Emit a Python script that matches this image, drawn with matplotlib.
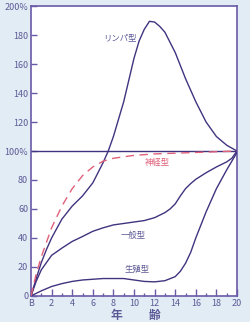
import matplotlib
matplotlib.use("Agg")
import matplotlib.pyplot as plt
from matplotlib.ticker import MultipleLocator

plt.rcParams['font.family'] = ['Noto Sans CJK JP', 'DejaVu Sans']

# ---- data (percent of adult size at 20 years) ----
lymph_x = [0, 0.5, 1, 1.5, 2, 3, 4, 5, 6, 7, 7.5, 8, 9, 10, 10.5, 11, 11.5, 12, 12.5, 13, 14, 15, 16, 17, 18, 19, 20]
lymph_y = [0, 12, 23, 32, 40, 53, 62, 69, 78, 92, 100, 110, 134, 164, 176, 184, 189.5, 189, 186, 182, 168, 150, 134, 120, 110, 104, 100]

neural_x = [0, 0.5, 1, 1.5, 2, 3, 4, 5, 6, 7, 8, 10, 12, 14, 16, 18, 20]
neural_y = [0, 15, 27, 37, 47, 62, 74, 83, 89, 93, 95, 97, 98, 98.5, 99, 99.5, 100]

general_x = [0, 0.5, 1, 1.5, 2, 3, 4, 5, 6, 7, 8, 9, 10, 11, 12, 13, 13.5, 14, 14.5, 15, 15.5, 16, 17, 18, 19, 19.5, 20]
general_y = [0, 10, 18, 23, 28, 33, 37.6, 41, 44.6, 47, 49, 50, 51, 52, 54, 57.5, 60, 63.5, 69, 74, 77.5, 80.5, 85, 89, 92.5, 95, 100]

repro_x = [0, 1, 2, 3, 4, 5, 6, 7, 8, 9, 10, 11, 12, 13, 14, 14.5, 15, 15.5, 16, 16.5, 17, 18, 19, 19.5, 20]
repro_y = [0, 3.5, 6.5, 8.5, 10, 11, 11.5, 12, 12, 12, 11, 10, 9.7, 10.5, 13.3, 17, 22.5, 30, 40, 49, 58, 74, 87, 93, 99]

labels = {"リンパ型": (8.6, 178), "神経型": (12.3, 92), "一般型": (9.9, 42), "生殖型": (10.3, 18)}

xticks = [0, 2, 4, 6, 8, 10, 12, 14, 16, 18, 20]
xticklabels = ["B", "2", "4", "6", "8", "10", "12", "14", "16", "18", "20"]
yticks = [0, 20, 40, 60, 80, 100, 120, 140, 160, 180, 200]
yticklabels = ["0", "20", "40", "60", "80", "100%", "120", "140", "160", "180", "200%"]

bg = "#e2ecf5"
spine_c = "#6a5aa8"
line_c = "#41337f"
text_c = "#5c5a96"
red_c = "#e0607a"

fig = plt.figure(figsize=(2.5, 3.22), dpi=100, facecolor=bg)
ax = fig.add_axes([0.124, 0.081, 0.824, 0.900])
ax.set_facecolor("white")

ax.axhline(100, color=line_c, lw=1.0, zorder=2)
ax.plot(lymph_x, lymph_y, color=line_c, lw=1.0, zorder=3)
ax.plot(general_x, general_y, color=line_c, lw=1.0, zorder=3)
ax.plot(repro_x, repro_y, color=line_c, lw=1.0, zorder=3)
ax.plot(neural_x, neural_y, color=red_c, lw=1.0, ls=(0, (6, 4)), zorder=3)

for t, (x, y) in labels.items():
    ax.text(x, y, t, fontsize=6, color=red_c if t == "神経型" else text_c,
            ha="center", va="center")

ax.set_xlim(0, 20)
ax.set_ylim(0, 200)
ax.set_xticks(xticks)
ax.set_xticklabels(xticklabels)
ax.xaxis.set_minor_locator(MultipleLocator(1))
ax.set_yticks(yticks)
ax.set_yticklabels(yticklabels)

ax.tick_params(axis="both", which="major", direction="in", colors=spine_c,
               labelcolor=text_c, labelsize=6.5, length=4, width=1.0, pad=2)
ax.tick_params(axis="x", which="minor", direction="in", colors=spine_c, length=2.5, width=1.0)
ax.tick_params(axis="x", which="major", length=5)

for s in ax.spines.values():
    s.set_color(spine_c)
    s.set_linewidth(1.2)

fig.text(0.464, 0.001, "年", fontsize=8.5, fontweight="bold", color=text_c, ha="center", va="bottom")
fig.text(0.62, 0.001, "齢", fontsize=8.5, fontweight="bold", color=text_c, ha="center", va="bottom")

fig.savefig("out.png", dpi=100, facecolor=bg)
